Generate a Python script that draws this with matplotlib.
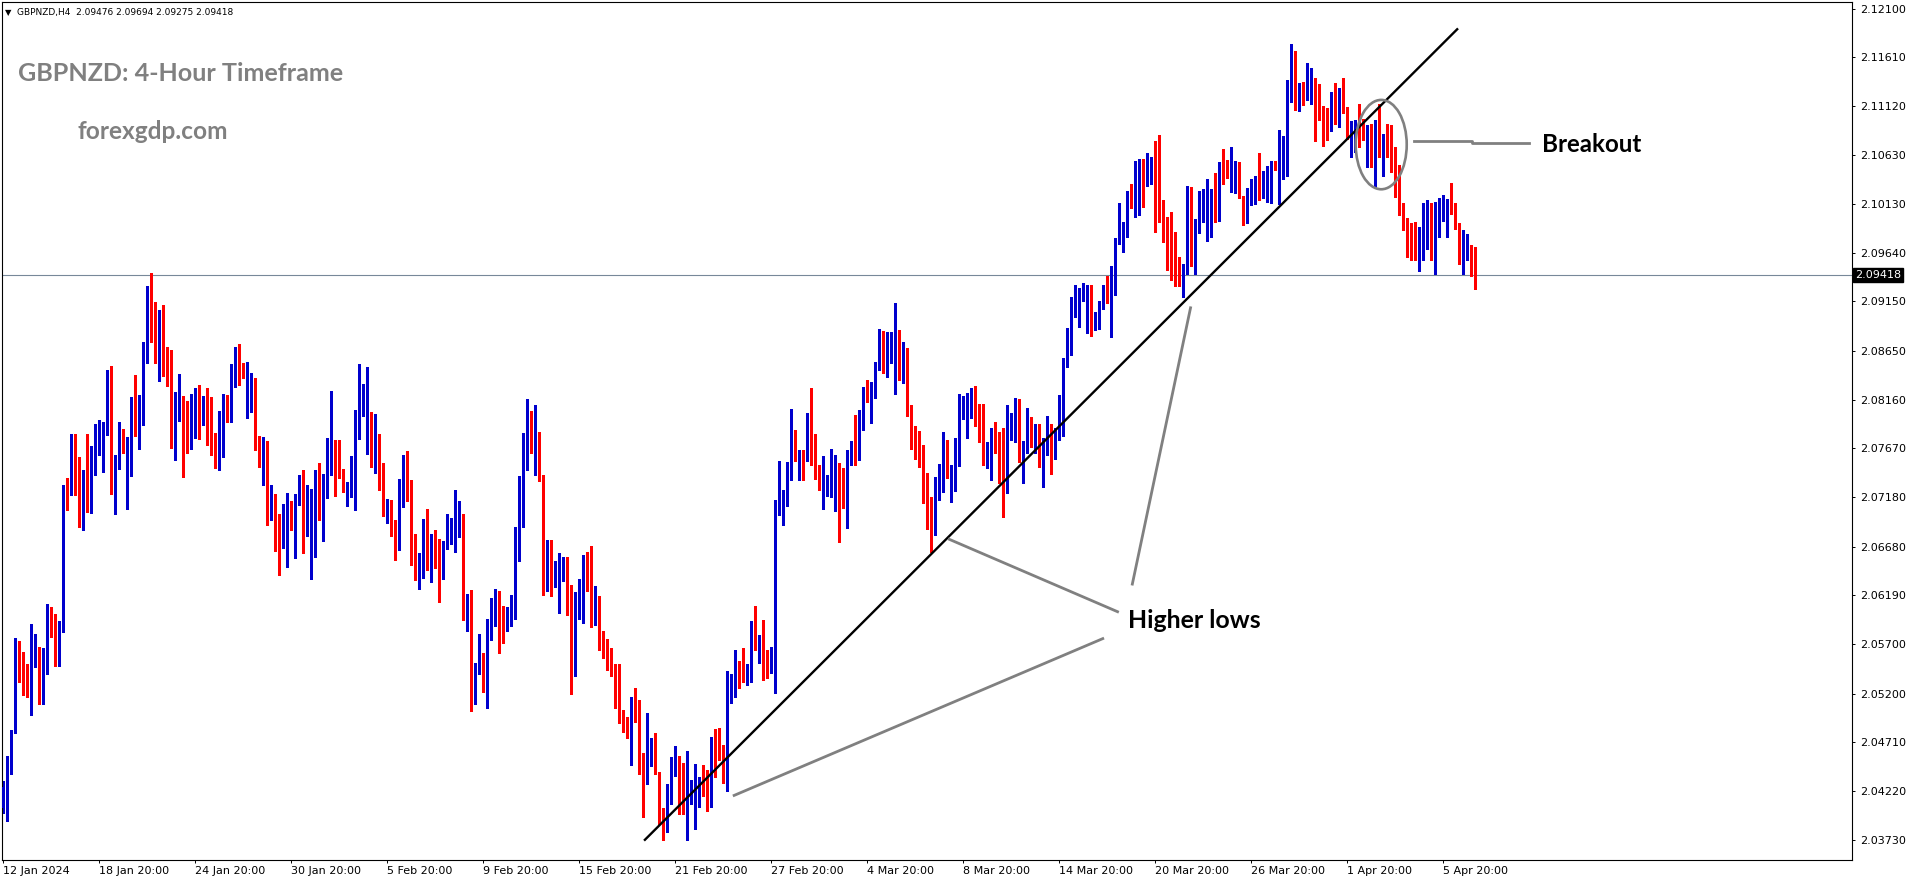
import matplotlib
matplotlib.use("Agg")
import matplotlib.pyplot as plt
import numpy as np
from matplotlib.patches import Ellipse

# GBPNZD H4 candles (bar 0 = 12 Jan 20:00)
opens = [
    2.0405, 2.0407, 2.0440, 2.0481, 2.0568, 2.0549, 2.0522, 2.0524, 2.0549, 2.0566,
    2.0520, 2.0547, 2.0584, 2.0563, 2.0549, 2.0590, 2.0724, 2.0721, 2.0764, 2.0714,
    2.0694, 2.0739, 2.0704, 2.0752, 2.0760, 2.0774, 2.0783, 2.0841, 2.0725, 2.0750,
    2.0768, 2.0727, 2.0741, 2.0815, 2.0798, 2.0808, 2.0853, 2.0910, 2.0901, 2.0864,
    2.0901, 2.0853, 2.0852, 2.0755, 2.0796, 2.0812, 2.0807, 2.0775, 2.0785, 2.0817,
    2.0802, 2.0815, 2.0779, 2.0771, 2.0745, 2.0787, 2.0813, 2.0802, 2.0833, 2.0851,
    2.0846, 2.0799, 2.0804, 2.0829, 2.0774, 2.0763, 2.0770, 2.0706, 2.0717, 2.0687,
    2.0673, 2.0704, 2.0706, 2.0691, 2.0711, 2.0736, 2.0681, 2.0691, 2.0706, 2.0709,
    2.0701, 2.0732, 2.0765, 2.0774, 2.0753, 2.0739, 2.0722, 2.0724, 2.0729, 2.0790,
    2.0809, 2.0794, 2.0803, 2.0756, 2.0779, 2.0733, 2.0700, 2.0692, 2.0681, 2.0676,
    2.0714, 2.0755, 2.0716, 2.0655, 2.0639, 2.0654, 2.0692, 2.0646, 2.0672, 2.0651,
    2.0648, 2.0667, 2.0674, 2.0677, 2.0678, 2.0667, 2.0602, 2.0615, 2.0527, 2.0542,
    2.0555, 2.0526, 2.0592, 2.0602, 2.0612, 2.0587, 2.0585, 2.0590, 2.0598, 2.0664,
    2.0735, 2.0774, 2.0796, 2.0740, 2.0783, 2.0736, 2.0624, 2.0671, 2.0635, 2.0637,
    2.0648, 2.0653, 2.0628, 2.0549, 2.0617, 2.0622, 2.0642, 2.0642, 2.0599, 2.0609,
    2.0572, 2.0563, 2.0562, 2.0549, 2.0524, 2.0495, 2.0480, 2.0467, 2.0504, 2.0498,
    2.0442, 2.0432, 2.0465, 2.0471, 2.0440, 2.0405, 2.0392, 2.0418, 2.0444, 2.0447,
    2.0428, 2.0407, 2.0418, 2.0418, 2.0429, 2.0434, 2.0433, 2.0420, 2.0468, 2.0468,
    2.0458, 2.0423, 2.0528, 2.0537, 2.0548, 2.0536, 2.0530, 2.0541, 2.0579, 2.0570,
    2.0574, 2.0561, 2.0554, 2.0550, 2.0701, 2.0704, 2.0718, 2.0741, 2.0784, 2.0750,
    2.0761, 2.0755, 2.0801, 2.0759, 2.0748, 2.0713, 2.0728, 2.0729, 2.0732, 2.0750,
    2.0728, 2.0689, 2.0762, 2.0769, 2.0763, 2.0795, 2.0825, 2.0807, 2.0825, 2.0851,
    2.0880, 2.0858, 2.0866, 2.0829, 2.0885, 2.0844, 2.0860, 2.0808, 2.0779, 2.0768,
    2.0758, 2.0734, 2.0713, 2.0681, 2.0726, 2.0724, 2.0769, 2.0739, 2.0739, 2.0755,
    2.0802, 2.0784, 2.0815, 2.0817, 2.0806, 2.0791, 2.0752, 2.0760, 2.0782, 2.0773,
    2.0745, 2.0722, 2.0790, 2.0783, 2.0811, 2.0755, 2.0764, 2.0798, 2.0772, 2.0779,
    2.0754, 2.0763, 2.0791, 2.0774, 2.0777, 2.0790, 2.0855, 2.0873, 2.0908, 2.0910,
    2.0923, 2.0883, 2.0922, 2.0891, 2.0895, 2.0909, 2.0928, 2.0913, 2.0939, 2.0977,
    2.0980, 2.0982, 2.1023, 2.1017, 2.1030, 2.1056, 2.1042, 2.1048, 2.1059, 2.1020,
    2.1011, 2.0984, 2.0975, 2.0966, 2.0952, 2.0934, 2.0948, 2.1027, 2.0963, 2.0994,
    2.1005, 2.0976, 2.1013, 2.1017, 2.1001, 2.1056, 2.1056, 2.1037, 2.1045, 2.1050,
    2.1021, 2.1001, 2.1020, 2.1024, 2.1037, 2.1031, 2.1042, 2.1042, 2.1054, 2.1026,
    2.1075, 2.1079, 2.1136, 2.1162, 2.1120, 2.1135, 2.1127, 2.1133, 2.1140, 2.1112,
    2.1111, 2.1093, 2.1090, 2.1116, 2.1096, 2.1124, 2.1110, 2.1080, 2.1088, 2.1094,
    2.1089, 2.1083, 2.1085, 2.1049, 2.1096, 2.1060, 2.1082, 2.1070, 2.1061, 2.1052,
    2.1004, 2.0990, 2.0974, 2.0967, 2.0963, 2.0973, 2.0994, 2.1013, 2.0994, 2.1004,
    2.1004, 2.0999, 2.1008, 2.1003, 2.0993, 2.0963, 2.0978, 2.0963, 2.09476,
]
highs = [
    2.0432, 2.0457, 2.0483, 2.0576, 2.0573, 2.0562, 2.0550, 2.0590, 2.0580, 2.0567,
    2.0566, 2.0610, 2.0607, 2.0600, 2.0593, 2.0730, 2.0737, 2.0782, 2.0782, 2.0758,
    2.0745, 2.0782, 2.0769, 2.0792, 2.0796, 2.0794, 2.0846, 2.0850, 2.0760, 2.0794,
    2.0787, 2.0779, 2.0819, 2.0841, 2.0821, 2.0874, 2.0931, 2.0944, 2.0914, 2.0906,
    2.0911, 2.0869, 2.0866, 2.0824, 2.0842, 2.0820, 2.0815, 2.0822, 2.0828, 2.0831,
    2.0820, 2.0828, 2.0819, 2.0783, 2.0805, 2.0822, 2.0821, 2.0852, 2.0869, 2.0872,
    2.0853, 2.0854, 2.0843, 2.0838, 2.0780, 2.0779, 2.0774, 2.0730, 2.0721, 2.0701,
    2.0711, 2.0722, 2.0714, 2.0721, 2.0740, 2.0745, 2.0730, 2.0726, 2.0745, 2.0752,
    2.0741, 2.0778, 2.0825, 2.0775, 2.0775, 2.0746, 2.0733, 2.0759, 2.0806, 2.0852,
    2.0832, 2.0849, 2.0804, 2.0802, 2.0782, 2.0752, 2.0716, 2.0715, 2.0695, 2.0736,
    2.0760, 2.0764, 2.0735, 2.0681, 2.0662, 2.0696, 2.0706, 2.0681, 2.0685, 2.0676,
    2.0674, 2.0701, 2.0697, 2.0725, 2.0714, 2.0701, 2.0620, 2.0624, 2.0551, 2.0580,
    2.0561, 2.0595, 2.0616, 2.0625, 2.0623, 2.0608, 2.0607, 2.0619, 2.0688, 2.0739,
    2.0783, 2.0817, 2.0805, 2.0811, 2.0784, 2.0740, 2.0675, 2.0675, 2.0654, 2.0662,
    2.0658, 2.0658, 2.0629, 2.0622, 2.0635, 2.0660, 2.0663, 2.0669, 2.0628, 2.0618,
    2.0583, 2.0575, 2.0566, 2.0550, 2.0550, 2.0504, 2.0497, 2.0517, 2.0526, 2.0514,
    2.0460, 2.0501, 2.0475, 2.0480, 2.0441, 2.0405, 2.0429, 2.0456, 2.0467, 2.0457,
    2.0450, 2.0462, 2.0433, 2.0449, 2.0436, 2.0448, 2.0443, 2.0476, 2.0484, 2.0485,
    2.0468, 2.0543, 2.0540, 2.0564, 2.0553, 2.0566, 2.0550, 2.0593, 2.0608, 2.0579,
    2.0594, 2.0564, 2.0567, 2.0715, 2.0754, 2.0725, 2.0753, 2.0807, 2.0786, 2.0765,
    2.0765, 2.0803, 2.0828, 2.0782, 2.0750, 2.0759, 2.0740, 2.0766, 2.0760, 2.0752,
    2.0747, 2.0765, 2.0774, 2.0801, 2.0806, 2.0829, 2.0836, 2.0834, 2.0854, 2.0887,
    2.0885, 2.0884, 2.0884, 2.0913, 2.0886, 2.0874, 2.0868, 2.0811, 2.0790, 2.0785,
    2.0770, 2.0742, 2.0718, 2.0738, 2.0751, 2.0784, 2.0775, 2.0750, 2.0777, 2.0822,
    2.0820, 2.0823, 2.0828, 2.0830, 2.0812, 2.0812, 2.0773, 2.0788, 2.0794, 2.0784,
    2.0788, 2.0811, 2.0803, 2.0818, 2.0817, 2.0774, 2.0808, 2.0799, 2.0792, 2.0792,
    2.0778, 2.0800, 2.0792, 2.0788, 2.0821, 2.0858, 2.0888, 2.0920, 2.0932, 2.0929,
    2.0934, 2.0932, 2.0932, 2.0904, 2.0915, 2.0932, 2.0941, 2.0951, 2.0979, 2.1014,
    2.0995, 2.1026, 2.1033, 2.1056, 2.1058, 2.1058, 2.1065, 2.1060, 2.1077, 2.1083,
    2.1017, 2.1000, 2.1005, 2.0985, 2.0960, 2.0953, 2.1031, 2.1030, 2.0998, 2.1026,
    2.1028, 2.1038, 2.1028, 2.1044, 2.1055, 2.1069, 2.1057, 2.1071, 2.1056, 2.1055,
    2.1021, 2.1029, 2.1038, 2.1041, 2.1065, 2.1046, 2.1051, 2.1056, 2.1056, 2.1088,
    2.1082, 2.1138, 2.1174, 2.1167, 2.1135, 2.1136, 2.1155, 2.1150, 2.1140, 2.1134,
    2.1112, 2.1110, 2.1126, 2.1135, 2.1130, 2.1140, 2.1111, 2.1097, 2.1098, 2.1114,
    2.1099, 2.1093, 2.1094, 2.1098, 2.1114, 2.1084, 2.1094, 2.1093, 2.1071, 2.1052,
    2.1014, 2.0999, 2.0994, 2.0995, 2.0990, 2.1014, 2.1017, 2.1014, 2.1015, 2.1019,
    2.1022, 2.1018, 2.1034, 2.1014, 2.0994, 2.0987, 2.0983, 2.0972, 2.09694,
]
lows = [
    2.0400, 2.0392, 2.0439, 2.0480, 2.0532, 2.0519, 2.0517, 2.0499, 2.0547, 2.0510,
    2.0510, 2.0540, 2.0577, 2.0548, 2.0548, 2.0582, 2.0705, 2.0720, 2.0720, 2.0688,
    2.0685, 2.0703, 2.0702, 2.0740, 2.0760, 2.0743, 2.0781, 2.0721, 2.0701, 2.0746,
    2.0762, 2.0706, 2.0739, 2.0780, 2.0766, 2.0791, 2.0853, 2.0874, 2.0853, 2.0835,
    2.0840, 2.0830, 2.0767, 2.0755, 2.0795, 2.0738, 2.0762, 2.0766, 2.0778, 2.0776,
    2.0791, 2.0770, 2.0760, 2.0747, 2.0745, 2.0758, 2.0794, 2.0794, 2.0829, 2.0831,
    2.0838, 2.0798, 2.0804, 2.0765, 2.0748, 2.0730, 2.0690, 2.0695, 2.0664, 2.0640,
    2.0667, 2.0648, 2.0685, 2.0657, 2.0710, 2.0662, 2.0679, 2.0635, 2.0658, 2.0695,
    2.0674, 2.0717, 2.0740, 2.0719, 2.0737, 2.0723, 2.0709, 2.0718, 2.0705, 2.0776,
    2.0800, 2.0761, 2.0748, 2.0742, 2.0725, 2.0699, 2.0692, 2.0679, 2.0655, 2.0665,
    2.0708, 2.0714, 2.0650, 2.0634, 2.0625, 2.0637, 2.0645, 2.0632, 2.0647, 2.0612,
    2.0635, 2.0666, 2.0671, 2.0663, 2.0678, 2.0594, 2.0583, 2.0503, 2.0510, 2.0540,
    2.0522, 2.0506, 2.0574, 2.0588, 2.0561, 2.0571, 2.0583, 2.0588, 2.0595, 2.0654,
    2.0688, 2.0745, 2.0762, 2.0740, 2.0734, 2.0619, 2.0623, 2.0618, 2.0627, 2.0601,
    2.0633, 2.0599, 2.0520, 2.0538, 2.0595, 2.0591, 2.0623, 2.0587, 2.0589, 2.0564,
    2.0556, 2.0544, 2.0538, 2.0506, 2.0490, 2.0481, 2.0475, 2.0448, 2.0491, 2.0439,
    2.0396, 2.0429, 2.0447, 2.0439, 2.0389, 2.0373, 2.0381, 2.0409, 2.0437, 2.0399,
    2.0399, 2.0373, 2.0409, 2.0384, 2.0406, 2.0417, 2.0402, 2.0406, 2.0436, 2.0453,
    2.0430, 2.0422, 2.0511, 2.0517, 2.0526, 2.0532, 2.0529, 2.0532, 2.0564, 2.0551,
    2.0534, 2.0536, 2.0541, 2.0521, 2.0700, 2.0690, 2.0709, 2.0735, 2.0754, 2.0735,
    2.0735, 2.0754, 2.0750, 2.0736, 2.0725, 2.0706, 2.0719, 2.0718, 2.0704, 2.0673,
    2.0707, 2.0687, 2.0750, 2.0750, 2.0755, 2.0786, 2.0814, 2.0793, 2.0818, 2.0846,
    2.0843, 2.0839, 2.0853, 2.0822, 2.0836, 2.0833, 2.0800, 2.0766, 2.0756, 2.0748,
    2.0712, 2.0686, 2.0663, 2.0680, 2.0715, 2.0723, 2.0737, 2.0713, 2.0724, 2.0749,
    2.0797, 2.0777, 2.0798, 2.0790, 2.0773, 2.0750, 2.0747, 2.0735, 2.0762, 2.0732,
    2.0698, 2.0722, 2.0775, 2.0773, 2.0753, 2.0732, 2.0762, 2.0768, 2.0762, 2.0748,
    2.0728, 2.0760, 2.0741, 2.0756, 2.0775, 2.0780, 2.0849, 2.0861, 2.0899, 2.0889,
    2.0915, 2.0883, 2.0880, 2.0886, 2.0887, 2.0907, 2.0913, 2.0879, 2.0922, 2.0973,
    2.0965, 2.0980, 2.1009, 2.1000, 2.1002, 2.1010, 2.1031, 2.1033, 2.0985, 2.0995,
    2.0975, 2.0947, 2.0937, 2.0931, 2.0931, 2.0920, 2.0943, 2.0951, 2.0943, 2.0984,
    2.0995, 2.0976, 2.0980, 2.0995, 2.0996, 2.1033, 2.1039, 2.1025, 2.1024, 2.1019,
    2.0992, 2.0994, 2.1012, 2.1013, 2.1017, 2.1019, 2.1015, 2.1014, 2.1047, 2.1013,
    2.1038, 2.1041, 2.1116, 2.1108, 2.1107, 2.1113, 2.1118, 2.1114, 2.1077, 2.1098,
    2.1072, 2.1078, 2.1087, 2.1094, 2.1091, 2.1105, 2.1079, 2.1061, 2.1066, 2.1071,
    2.1078, 2.1050, 2.1050, 2.1030, 2.1060, 2.1041, 2.1060, 2.1045, 2.1020, 2.1002,
    2.0987, 2.0960, 2.0957, 2.0957, 2.0946, 2.0957, 2.0968, 2.0957, 2.0943, 2.0980,
    2.0996, 2.0980, 2.1003, 2.0988, 2.0953, 2.0943, 2.0957, 2.0941, 2.09275,
]
closes = [
    2.0426, 2.0440, 2.0482, 2.0568, 2.0549, 2.0522, 2.0518, 2.0550, 2.0568, 2.0520,
    2.0547, 2.0584, 2.0583, 2.0551, 2.0591, 2.0724, 2.0721, 2.0765, 2.0721, 2.0694,
    2.0739, 2.0704, 2.0755, 2.0787, 2.0771, 2.0783, 2.0841, 2.0725, 2.0750, 2.0768,
    2.0764, 2.0742, 2.0817, 2.0799, 2.0810, 2.0855, 2.0911, 2.0901, 2.0864, 2.0900,
    2.0853, 2.0852, 2.0782, 2.0796, 2.0812, 2.0806, 2.0775, 2.0790, 2.0815, 2.0803,
    2.0815, 2.0779, 2.0771, 2.0752, 2.0794, 2.0812, 2.0802, 2.0833, 2.0852, 2.0845,
    2.0842, 2.0803, 2.0830, 2.0773, 2.0763, 2.0771, 2.0722, 2.0717, 2.0686, 2.0673,
    2.0705, 2.0709, 2.0693, 2.0712, 2.0736, 2.0680, 2.0692, 2.0711, 2.0738, 2.0701,
    2.0733, 2.0768, 2.0774, 2.0756, 2.0738, 2.0723, 2.0725, 2.0730, 2.0791, 2.0810,
    2.0828, 2.0802, 2.0756, 2.0780, 2.0733, 2.0700, 2.0701, 2.0681, 2.0677, 2.0716,
    2.0755, 2.0719, 2.0657, 2.0639, 2.0655, 2.0692, 2.0646, 2.0673, 2.0656, 2.0647,
    2.0667, 2.0675, 2.0679, 2.0707, 2.0692, 2.0602, 2.0615, 2.0526, 2.0543, 2.0555,
    2.0533, 2.0593, 2.0603, 2.0611, 2.0586, 2.0585, 2.0599, 2.0600, 2.0664, 2.0735,
    2.0774, 2.0801, 2.0774, 2.0783, 2.0736, 2.0624, 2.0671, 2.0639, 2.0646, 2.0649,
    2.0653, 2.0627, 2.0548, 2.0619, 2.0633, 2.0643, 2.0641, 2.0599, 2.0609, 2.0571,
    2.0570, 2.0561, 2.0548, 2.0523, 2.0494, 2.0486, 2.0478, 2.0504, 2.0497, 2.0441,
    2.0433, 2.0466, 2.0474, 2.0440, 2.0403, 2.0392, 2.0419, 2.0449, 2.0448, 2.0426,
    2.0406, 2.0420, 2.0422, 2.0432, 2.0435, 2.0429, 2.0420, 2.0468, 2.0467, 2.0458,
    2.0443, 2.0528, 2.0538, 2.0548, 2.0535, 2.0534, 2.0549, 2.0578, 2.0569, 2.0574,
    2.0561, 2.0555, 2.0556, 2.0701, 2.0705, 2.0718, 2.0741, 2.0784, 2.0760, 2.0761,
    2.0754, 2.0800, 2.0756, 2.0746, 2.0736, 2.0728, 2.0730, 2.0732, 2.0750, 2.0728,
    2.0717, 2.0762, 2.0769, 2.0763, 2.0797, 2.0827, 2.0821, 2.0825, 2.0852, 2.0881,
    2.0857, 2.0867, 2.0871, 2.0885, 2.0844, 2.0860, 2.0808, 2.0779, 2.0770, 2.0758,
    2.0732, 2.0712, 2.0680, 2.0727, 2.0743, 2.0769, 2.0739, 2.0740, 2.0755, 2.0802,
    2.0815, 2.0815, 2.0817, 2.0806, 2.0791, 2.0752, 2.0766, 2.0782, 2.0772, 2.0744,
    2.0722, 2.0790, 2.0799, 2.0811, 2.0755, 2.0764, 2.0798, 2.0772, 2.0781, 2.0754,
    2.0764, 2.0791, 2.0774, 2.0779, 2.0799, 2.0856, 2.0874, 2.0909, 2.0909, 2.0923,
    2.0928, 2.0922, 2.0891, 2.0896, 2.0909, 2.0928, 2.0915, 2.0939, 2.0977, 2.0981,
    2.0984, 2.1025, 2.1017, 2.1030, 2.1056, 2.1042, 2.1049, 2.1059, 2.1025, 2.1011,
    2.0984, 2.0975, 2.0966, 2.0952, 2.0941, 2.0948, 2.1027, 2.0963, 2.0995, 2.1006,
    2.1018, 2.1014, 2.1017, 2.1003, 2.1054, 2.1054, 2.1047, 2.1046, 2.1051, 2.1021,
    2.1001, 2.1021, 2.1028, 2.1037, 2.1029, 2.1042, 2.1043, 2.1054, 2.1048, 2.1075,
    2.1079, 2.1137, 2.1161, 2.1120, 2.1135, 2.1127, 2.1135, 2.1141, 2.1111, 2.1110,
    2.1089, 2.1089, 2.1116, 2.1096, 2.1124, 2.1108, 2.1080, 2.1089, 2.1094, 2.1089,
    2.1079, 2.1086, 2.1059, 2.1096, 2.1060, 2.1082, 2.1070, 2.1061, 2.1052, 2.1004,
    2.0990, 2.0973, 2.0967, 2.0963, 2.0977, 2.1014, 2.1014, 2.0995, 2.1004, 2.1005,
    2.1018, 2.1008, 2.1003, 2.0992, 2.0963, 2.0978, 2.0979, 2.0947, 2.09418,
]

date_bars = [0, 24, 48, 72, 96, 120, 144, 168, 192, 216, 240, 264, 288, 312, 336, 360]
date_labels = ["12 Jan 2024", "18 Jan 20:00", "24 Jan 20:00", "30 Jan 20:00",
               "5 Feb 20:00", "9 Feb 20:00", "15 Feb 20:00", "21 Feb 20:00",
               "27 Feb 20:00", "4 Mar 20:00", "8 Mar 20:00", "14 Mar 20:00",
               "20 Mar 20:00", "26 Mar 20:00", "1 Apr 20:00", "5 Apr 20:00"]
price_ticks = [2.12100, 2.11610, 2.11120, 2.10630, 2.10130, 2.09640, 2.09150,
               2.08650, 2.08160, 2.07670, 2.07180, 2.06680, 2.06190, 2.05700,
               2.05200, 2.04710, 2.04220, 2.03730]
bid = 2.09418

# drawn objects (bar index, price)
trend_x = [160.2, 363.7]
trend_y = [2.0372, 2.1190]
hl_lines = [([236.2, 278.9], [2.0676, 2.0602]),
            ([182.4, 275.2], [2.0417, 2.0576]),
            ([296.9, 282.2], [2.0910, 2.0629])]
breakout_x = [352.7, 367.2, 367.2, 381.4]
breakout_y = [2.1077, 2.1077, 2.1075, 2.1075]
circle_xy = (344.5, 2.1073)
circle_w, circle_h = 12.75, 0.0090

W, H = 1916, 884
fig = plt.figure(figsize=(W / 100, H / 100), dpi=100)
fig.patch.set_facecolor("white")
ax = fig.add_axes([2 / W, 24 / H, 1850 / W, 858 / H])
ax.set_xlim(-0.325, 462.2)
ax.set_ylim(2.03525, 2.12166)

o = np.array(opens)
h = np.array(highs)
l = np.array(lows)
c = np.array(closes)
x = np.arange(len(o))
up = c >= o
cols = np.where(up, "#0000cd", "#ff0000")
body_lo = np.minimum(o, c)
body_hi = np.maximum(o, c)

ax.vlines(x, np.minimum(l, body_lo), np.maximum(h, body_hi), colors=cols,
          linewidth=0.75, antialiased=False, zorder=2)
ax.bar(x, np.maximum(body_hi - body_lo, 0.00009), width=0.66, bottom=body_lo,
       color=cols, linewidth=0, antialiased=False, zorder=3)

ax.axhline(bid, color="#778899", lw=0.8, zorder=1)

ax.plot(trend_x, trend_y, color="black", lw=1.7, solid_capstyle="butt", zorder=4)
for lx, ly in hl_lines:
    ax.plot(lx, ly, color="#808080", lw=2.0, solid_capstyle="butt", zorder=4)
ax.plot(breakout_x, breakout_y, color="#808080", lw=2.0, zorder=4)
ax.add_patch(Ellipse(circle_xy, circle_w, circle_h, fill=False,
                     ec="#808080", lw=1.9, zorder=4))

# axes look
for s in ax.spines.values():
    s.set_color("black")
    s.set_linewidth(0.8)
ax.yaxis.tick_right()
ax.set_yticks(price_ticks)
ax.set_yticklabels([f"{v:.5f}" for v in price_ticks])
ax.tick_params(axis="y", direction="out", length=2.5, width=0.7, pad=3.5,
               labelsize=8, colors="black")
ax.set_xticks(date_bars)
ax.set_xticklabels(date_labels)
ax.tick_params(axis="x", direction="out", length=2.5, width=0.7, pad=2,
               labelsize=8, colors="black")
for t in ax.get_xticklabels():
    t.set_horizontalalignment("left")

ax.text(1.0015, bid, f"{bid:.5f}", transform=ax.get_yaxis_transform(),
        ha="left", va="center", color="white", fontsize=8,
        bbox=dict(boxstyle="square,pad=0.15", fc="black", ec="black"))


def px(xp, yp):
    return xp / W, 1 - yp / H


renderer = fig.canvas.get_renderer()


def fit(t, width_px):
    w = t.get_window_extent(renderer).width
    t.set_fontsize(t.get_fontsize() * width_px / w)


big_font = ["Lato", "DejaVu Sans"]
t1 = fig.text(*px(18, 81), "GBPNZD: 4-Hour Timeframe", color="#808080",
              fontsize=20, fontweight="bold", family=big_font, va="baseline")
fit(t1, 325)
t2 = fig.text(*px(78, 139), "forexgdp.com", color="#808080",
              fontsize=20, fontweight="bold", family=big_font, va="baseline")
fit(t2, 150)
t3 = fig.text(*px(1128, 628), "Higher lows", color="black",
              fontsize=15, fontweight="bold", family=big_font, va="baseline")
fit(t3, 133)
t4 = fig.text(*px(1542, 152), "Breakout", color="black",
              fontsize=15, fontweight="bold", family=big_font, va="baseline")
fit(t4, 100)

fig.text(*px(5, 13), "\u25bc", fontsize=6, va="center", ha="left", color="black")
t5 = fig.text(*px(17, 13), "GBPNZD,H4  2.09476 2.09694 2.09275 2.09418",
              fontsize=8, va="center", ha="left", color="black")
fit(t5, 219)

fig.savefig("out.png", dpi=100, facecolor="white")
